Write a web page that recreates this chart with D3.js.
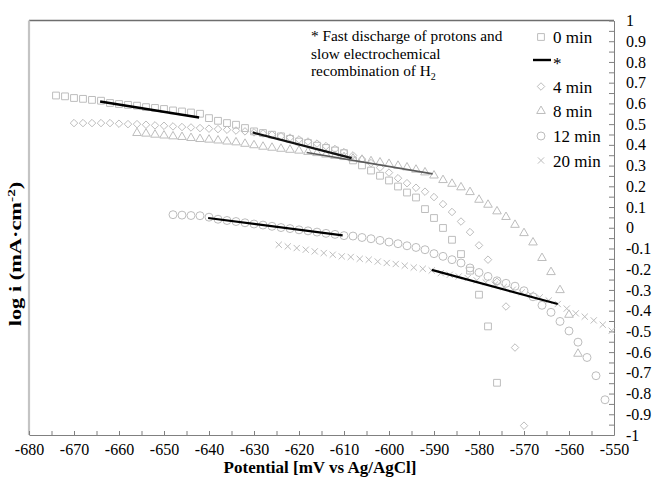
<!DOCTYPE html>
<html><head><meta charset="utf-8">
<script src="https://cdn.jsdelivr.net/npm/d3@7"></script>
<style>
body{margin:0;background:#fff;}
svg{display:block;}
svg text{font-family:"Liberation Serif","Times New Roman",serif;}
</style></head><body>
<svg id="c" width="654" height="478"></svg>
<script>
// ---- data (potential in mV vs Ag/AgCl, log i in mA/cm2) ----
const potential0 = [-674,-672,-670,-668,-666,-664,-662,-660,-658,-656,-654,-652,-650,-648,-646,-644,-642,-640,-638,-636,-634,-632,-630,-628,-626,-624,-622,-620,-618,-616,-614,-612,-610,-608,-606,-604,-602,-600,-598,-596,-594,-592,-590,-588,-586,-584,-582,-580,-578,-576];
const logi0 = [0.638,0.634,0.626,0.622,0.617,0.613,0.602,0.597,0.593,0.589,0.582,0.578,0.573,0.566,0.561,0.556,0.550,0.529,0.516,0.505,0.497,0.481,0.465,0.457,0.449,0.441,0.429,0.416,0.409,0.396,0.385,0.373,0.360,0.325,0.301,0.276,0.251,0.228,0.199,0.170,0.146,0.090,0.047,-0.001,-0.058,-0.127,-0.207,-0.323,-0.476,-0.748];

const potential4 = [-670,-668,-666,-664,-662,-660,-658,-656,-654,-652,-650,-648,-646,-644,-642,-640,-638,-636,-634,-632,-630,-628,-626,-624,-622,-620,-618,-616,-614,-612,-610,-608,-606,-604,-602,-600,-598,-596,-594,-592,-590,-588,-586,-584,-582,-580,-578,-576,-574,-572,-570];
const logi4 = [0.505,0.505,0.505,0.505,0.505,0.502,0.500,0.500,0.497,0.494,0.492,0.489,0.486,0.484,0.481,0.478,0.476,0.473,0.469,0.465,0.460,0.455,0.449,0.442,0.435,0.426,0.416,0.406,0.394,0.380,0.365,0.349,0.331,0.312,0.290,0.266,0.239,0.215,0.193,0.174,0.148,0.114,0.076,0.030,-0.021,-0.085,-0.154,-0.261,-0.380,-0.578,-0.955];

const potential8 = [-656,-654,-652,-650,-648,-646,-644,-642,-640,-638,-636,-634,-632,-630,-628,-626,-624,-622,-620,-618,-616,-614,-612,-610,-608,-606,-604,-602,-600,-598,-596,-594,-592,-590,-588,-586,-584,-582,-580,-578,-576,-574,-572,-570,-568,-566,-564,-562,-560,-558];
const logi8 = [0.457,0.454,0.449,0.445,0.441,0.438,0.433,0.428,0.425,0.421,0.416,0.412,0.405,0.398,0.391,0.386,0.381,0.376,0.372,0.366,0.360,0.353,0.347,0.341,0.334,0.328,0.321,0.315,0.308,0.299,0.291,0.280,0.267,0.252,0.230,0.212,0.195,0.172,0.135,0.111,0.079,0.052,0.014,-0.026,-0.071,-0.146,-0.214,-0.301,-0.420,-0.608];

const potential12 = [-648,-646,-644,-642,-640,-638,-636,-634,-632,-630,-628,-626,-624,-622,-620,-618,-616,-614,-612,-610,-608,-606,-604,-602,-600,-598,-596,-594,-592,-590,-588,-586,-584,-582,-580,-578,-576,-574,-572,-570,-568,-566,-564,-562,-560,-558,-556,-554,-552];
const logi12 = [0.063,0.061,0.059,0.058,0.051,0.041,0.035,0.030,0.024,0.018,0.013,0.007,0.001,-0.004,-0.010,-0.015,-0.021,-0.027,-0.032,-0.038,-0.040,-0.047,-0.053,-0.061,-0.069,-0.077,-0.087,-0.095,-0.106,-0.125,-0.138,-0.154,-0.170,-0.194,-0.216,-0.235,-0.256,-0.268,-0.282,-0.304,-0.333,-0.374,-0.408,-0.452,-0.498,-0.552,-0.626,-0.714,-0.830];

const potential20 = [-624.5,-622.5,-620.5,-618.5,-616.5,-614.5,-612.5,-610.5,-608.5,-606.5,-604.5,-602.5,-600.5,-598.5,-596.5,-594.5,-592.5,-590.5,-588.5,-586.5,-584.5,-582.5,-580.5,-578.5,-576.5,-574.5,-572.5,-570.5,-568.5,-566.5,-564.5,-562.5,-560.5,-558.5,-556.5,-554.5,-552.5,-550.5];
const logi20 = [-0.082,-0.090,-0.098,-0.106,-0.114,-0.122,-0.130,-0.138,-0.141,-0.150,-0.154,-0.163,-0.170,-0.175,-0.183,-0.192,-0.198,-0.206,-0.219,-0.227,-0.235,-0.243,-0.254,-0.264,-0.275,-0.286,-0.299,-0.312,-0.323,-0.336,-0.351,-0.368,-0.390,-0.413,-0.429,-0.447,-0.468,-0.497];

// fitted Tafel segments (legend "*")
const fitStartX = [-664.2,-630.3,-618.3,-640.2,-590.5];
const fitStartY = [0.609,0.460,0.363,0.047,-0.203];
const fitEndX   = [-642.2,-608.3,-590.3,-610.3,-562.5];
const fitEndY   = [0.532,0.336,0.260,-0.037,-0.368];

const seriesNames = ["0 min","4 min","8 min","12 min","20 min"];
const xTickLabels = [-680,-670,-660,-650,-640,-630,-620,-610,-600,-590,-580,-570,-560,-550];
const yTickLabels = [1,0.9,0.8,0.7,0.6,0.5,0.4,0.3,0.2,0.1,0,-0.1,-0.2,-0.3,-0.4,-0.5,-0.6,-0.7,-0.8,-0.9,-1];
const noteLines = ["* Fast discharge of protons and","slow electrochemical","recombination of H"];

// ---- drawing ----
const svg = d3.select("#c");
const x = d3.scaleLinear().domain([-680,-550]).range([29,614]);
const y = d3.scaleLinear().domain([-1,1]).range([435,20.5]);
const gray = "#bdbdbd";

// frame lines
svg.append("line").attr("x1",x(-680)).attr("x2",x(-550)).attr("y1",y(1)).attr("y2",y(1))
  .attr("stroke","#6e6e6e").attr("stroke-width",1.5);
svg.append("line").attr("x1",x(-680)).attr("x2",x(-680)).attr("y1",y(1)).attr("y2",y(-1))
  .attr("stroke","#c4c4c4").attr("stroke-width",2.2);

// bottom axis
const gx = svg.append("g").attr("transform",`translate(0,${y(-1)})`)
  .call(d3.axisBottom(x).tickValues(x.ticks(26)).tickSize(-4).tickSizeOuter(0).tickPadding(9)
    .tickFormat(d => xTickLabels.includes(d) ? String(d) : ""));
// right axis
const gy = svg.append("g").attr("transform",`translate(${x(-550)},0)`)
  .call(d3.axisRight(y).tickValues(y.ticks(40)).tickSize(-5).tickSizeOuter(0).tickPadding(12)
    .tickFormat(d => { const v = Math.round(d*10)/10; return (Math.abs(d*10 - Math.round(d*10))<1e-6 && yTickLabels.includes(v)) ? String(v===0?0:v) : ""; }));
[gx,gy].forEach(g => {
  g.attr("font-family",null).attr("font-size",null);
  g.selectAll("path,line").attr("stroke","#808080").attr("stroke-width",1);
  g.selectAll("text").attr("fill","#000")
    .style("font-family","'Liberation Serif','Times New Roman',serif").style("font-size","16px");
});

// series
const series = [
  {name:seriesNames[0], xs:potential0, ys:logi0, type:d3.symbolSquare, size:46},
  {name:seriesNames[1], xs:potential4, ys:logi4, type:d3.symbolDiamond2, size:36},
  {name:seriesNames[2], xs:potential8, ys:logi8, type:d3.symbolTriangle, size:32},
  {name:seriesNames[3], xs:potential12, ys:logi12, type:d3.symbolCircle, size:50},
  {name:seriesNames[4], xs:potential20, ys:logi20, type:d3.symbolTimes, size:27}
];
series.forEach(s => {
  const sym = d3.symbol().type(s.type).size(s.size);
  svg.append("g").selectAll("path").data(s.xs.map((v,i)=>[v,s.ys[i]])).join("path")
    .attr("d", sym)
    .attr("transform", d => `translate(${x(d[0])},${y(d[1])})`)
    .attr("fill","none").attr("stroke",gray).attr("stroke-width",1);
});

// fitted lines
const fitColors = ["#000","#111","#5a5a5a","#000","#000"];
const fitWidths = [2.4,2.2,1.6,2.2,2.2];
svg.append("g").selectAll("line").data(fitStartX.map((v,i)=>i)).join("line")
  .attr("x1",i=>x(fitStartX[i])).attr("y1",i=>y(fitStartY[i]))
  .attr("x2",i=>x(fitEndX[i])).attr("y2",i=>y(fitEndY[i]))
  .attr("stroke",i=>fitColors[i]).attr("stroke-width",i=>fitWidths[i]);

// legend
const legend = svg.append("g").style("font-size","17px");
const rowY = [37,60,86.5,111,136,160.5];
const legendItems = [series[0],"line",series[1],series[2],series[3],series[4]];
legendItems.forEach((it,i) => {
  if (it === "line") {
    legend.append("line").attr("x1",533).attr("x2",551).attr("y1",rowY[i]).attr("y2",rowY[i])
      .attr("stroke","#000").attr("stroke-width",2.4);
    legend.append("text").attr("x",553).attr("y",rowY[i]+9).text("*");
  } else {
    legend.append("path").attr("d", d3.symbol().type(it.type).size(it.size)())
      .attr("transform",`translate(541,${rowY[i]})`)
      .attr("fill","none").attr("stroke",gray).attr("stroke-width",1);
    legend.append("text").attr("x",553).attr("y",rowY[i]+6).text(it.name);
  }
});

// note
const note = svg.append("g").style("font-size","15.3px");
note.append("text").attr("x",311).attr("y",41).text(noteLines[0]);
note.append("text").attr("x",311).attr("y",58.5).text(noteLines[1]);
const t3 = note.append("text").attr("x",311).attr("y",76).text(noteLines[2]);
t3.append("tspan").style("font-size","10px").attr("dy",3.5).text("2");

// axis titles
svg.append("text").attr("x",320).attr("y",473).attr("text-anchor","middle")
  .attr("font-weight","bold").style("font-size","17px").text("Potential [mV vs Ag/AgCl]");
const yl = svg.append("text").attr("transform","translate(21,254) rotate(-90) scale(1.4,1)")
  .attr("text-anchor","middle").attr("font-weight","bold").style("font-size","16px");
yl.append("tspan").text("log i (mA·cm");
yl.append("tspan").style("font-size","11px").attr("dy",-6).text("-2");
yl.append("tspan").attr("dy",6).text(")");
</script>
</body></html>
